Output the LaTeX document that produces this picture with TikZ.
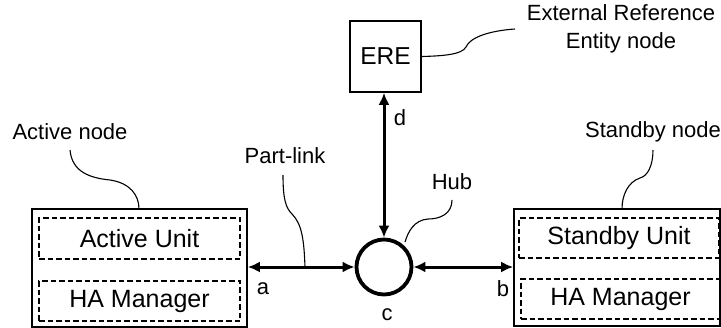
\documentclass[tikz,border=0pt]{standalone}
\usepackage{fontspec}
\setmainfont{Liberation Sans}
\usetikzlibrary{arrows.meta}
\begin{document}
\begin{tikzpicture}[x=1pt,y=-1pt,
  nodebox/.style={draw,line width=1.6pt,rectangle,inner sep=0pt},
  unitbox/.style={draw,line width=2.2pt,dash pattern=on 5.5pt off 3pt,rectangle,inner sep=0pt,font=\fontsize{25}{30}\selectfont},
  lbl/.style={font=\fontsize{22}{26}\selectfont,inner sep=0pt,align=center},
  callout/.style={line width=1.1pt},
  biarrow/.style={line width=3pt,{Latex[length=12pt,width=11pt]}-{Latex[length=12pt,width=11pt]}},
  hubstyle/.style={draw,circle,line width=3.8pt,minimum size=55pt,inner sep=0pt}]
\useasboundingbox (0,0) rectangle (721,327);

% main boxes
\node[nodebox,minimum width=215pt,minimum height=118pt] (active) at (139.5,268) {};
\node[nodebox,minimum width=206pt,minimum height=117pt] (standby) at (617,267.5) {};
\node[unitbox,minimum width=201pt,minimum height=41pt] (activeunit) at (139.5,238.5) {Active Unit};
\node[unitbox,minimum width=201pt,minimum height=40pt] (activeha) at (139.5,301) {HA Manager};
\node[unitbox,minimum width=200pt,minimum height=40pt] (standbyunit) at (619,238) {Standby Unit};
\node[unitbox,minimum width=199pt,minimum height=40pt] (standbyha) at (620.5,299) {HA Manager};

% ERE
\node[nodebox,minimum width=71pt,minimum height=71pt,font=\fontsize{24.5}{28}\selectfont] (ere) at (385.5,56.5) {ERE};

% hub
\node[hubstyle] (hub) at (384,267) {};

% connectors
\coordinate (aend) at (active.east |- hub.west);
\coordinate (bend) at (standby.west |- hub.east);
\draw[biarrow] (aend) -- (hub.west);
\draw[biarrow] (hub.east) -- (bend);
\draw[biarrow] (hub.north) -- (hub.north |- ere.south);

% letters
\node[lbl] (la) at (263,289) {a};
\node[lbl] (lb) at (503,289) {b};
\node[lbl] (lc) at (387,315) {c};
\node[lbl] (ld) at (400,118) {d};

% labels
\node[lbl] (tactive) at (70,132) {Active node};
\node[lbl] (tstandby) at (653,132) {Standby node};
\node[lbl] (tpart) at (285,156) {Part-link};
\node[lbl] (thub) at (452,182) {Hub};
\node[lbl,font=\fontsize{22}{28}\selectfont] (tere) at (621,29) {External Reference\\Entity node};

% callouts
\coordinate (cactive) at (139,209);
\coordinate (cstandby) at (622,209);
\coordinate (cpart) at (305,267);
\coordinate (chub) at (405,242);
\coordinate (cere) at (515,29);
\draw[callout] (70,150) .. controls (72,172) and (90,178) .. (110,180) .. controls (130,183) and (139,195) .. (cactive);
\draw[callout] (653,150) .. controls (653,165) and (648,176) .. (640,178) .. controls (628,182) and (622,195) .. (cstandby);
\draw[callout] (283,175) .. controls (283,200) and (286,208) .. (292,214) .. controls (302,224) and (304,240) .. (cpart);
\draw[callout] (452,200) .. controls (452,214) and (440,219) .. (428,219) .. controls (414,220) and (408,232) .. (chub);
\draw[callout] (ere.east) .. controls (440,56) and (462,55) .. (466,47) .. controls (472,34) and (500,30) .. (cere);
\end{tikzpicture}
\end{document}
